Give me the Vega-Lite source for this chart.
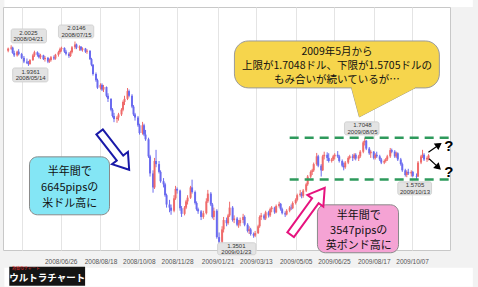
{
"$schema": "https://vega.github.io/schema/vega-lite/v6.json",
"width": 447, "height": 243,
"autosize": "none",
"padding": {"left": 3, "top": 7, "right": 28, "bottom": 37},
"background": "#f2f2f2",
"config": {"view": {"stroke": "#c8c8c8", "fill": "white"}, "font": "Liberation Sans"},
"datasets": {
"candles": [
{"d":"2008-04-17","o":1.985,"h":1.995,"l":1.980,"c":1.992},
{"d":"2008-04-21","o":1.992,"h":2.0025,"l":1.988,"c":1.995},
{"d":"2008-04-23","o":1.995,"h":1.998,"l":1.975,"c":1.978},
{"d":"2008-04-25","o":1.978,"h":1.985,"l":1.965,"c":1.970},
{"d":"2008-04-29","o":1.970,"h":1.985,"l":1.966,"c":1.982},
{"d":"2008-05-01","o":1.982,"h":1.990,"l":1.970,"c":1.974},
{"d":"2008-05-05","o":1.974,"h":1.978,"l":1.958,"c":1.962},
{"d":"2008-05-08","o":1.962,"h":1.968,"l":1.945,"c":1.950},
{"d":"2008-05-12","o":1.950,"h":1.960,"l":1.942,"c":1.946},
{"d":"2008-05-14","o":1.946,"h":1.952,"l":1.9361,"c":1.942},
{"d":"2008-05-16","o":1.942,"h":1.958,"l":1.940,"c":1.955},
{"d":"2008-05-20","o":1.955,"h":1.975,"l":1.952,"c":1.970},
{"d":"2008-05-22","o":1.970,"h":1.985,"l":1.965,"c":1.980},
{"d":"2008-05-26","o":1.980,"h":1.983,"l":1.966,"c":1.972},
{"d":"2008-05-28","o":1.972,"h":1.978,"l":1.960,"c":1.964},
{"d":"2008-05-30","o":1.964,"h":1.975,"l":1.958,"c":1.970},
{"d":"2008-06-03","o":1.970,"h":1.972,"l":1.955,"c":1.958},
{"d":"2008-06-05","o":1.958,"h":1.968,"l":1.950,"c":1.962},
{"d":"2008-06-09","o":1.962,"h":1.965,"l":1.945,"c":1.950},
{"d":"2008-06-11","o":1.950,"h":1.960,"l":1.946,"c":1.955},
{"d":"2008-06-13","o":1.955,"h":1.968,"l":1.950,"c":1.964},
{"d":"2008-06-17","o":1.964,"h":1.970,"l":1.955,"c":1.960},
{"d":"2008-06-19","o":1.960,"h":1.975,"l":1.956,"c":1.972},
{"d":"2008-06-23","o":1.972,"h":1.985,"l":1.966,"c":1.980},
{"d":"2008-06-25","o":1.980,"h":1.995,"l":1.975,"c":1.990},
{"d":"2008-06-27","o":1.990,"h":1.998,"l":1.982,"c":1.994},
{"d":"2008-07-01","o":1.994,"h":1.996,"l":1.978,"c":1.982},
{"d":"2008-07-03","o":1.982,"h":1.988,"l":1.970,"c":1.975},
{"d":"2008-07-07","o":1.975,"h":1.980,"l":1.962,"c":1.968},
{"d":"2008-07-09","o":1.968,"h":1.985,"l":1.965,"c":1.980},
{"d":"2008-07-11","o":1.980,"h":2.000,"l":1.976,"c":1.996},
{"d":"2008-07-15","o":1.996,"h":2.0146,"l":1.990,"c":2.005},
{"d":"2008-07-17","o":2.005,"h":2.008,"l":1.990,"c":1.995},
{"d":"2008-07-21","o":1.995,"h":2.002,"l":1.985,"c":1.998},
{"d":"2008-07-23","o":1.998,"h":2.000,"l":1.984,"c":1.988},
{"d":"2008-07-25","o":1.988,"h":1.996,"l":1.982,"c":1.992},
{"d":"2008-07-29","o":1.992,"h":1.994,"l":1.978,"c":1.982},
{"d":"2008-07-31","o":1.982,"h":1.990,"l":1.975,"c":1.985},
{"d":"2008-08-04","o":1.985,"h":1.986,"l":1.955,"c":1.958},
{"d":"2008-08-06","o":1.958,"h":1.962,"l":1.935,"c":1.940},
{"d":"2008-08-08","o":1.940,"h":1.942,"l":1.905,"c":1.910},
{"d":"2008-08-12","o":1.910,"h":1.915,"l":1.885,"c":1.890},
{"d":"2008-08-14","o":1.890,"h":1.895,"l":1.862,"c":1.866},
{"d":"2008-08-18","o":1.866,"h":1.880,"l":1.860,"c":1.875},
{"d":"2008-08-20","o":1.875,"h":1.880,"l":1.855,"c":1.860},
{"d":"2008-08-22","o":1.860,"h":1.875,"l":1.852,"c":1.868},
{"d":"2008-08-26","o":1.868,"h":1.870,"l":1.835,"c":1.840},
{"d":"2008-08-28","o":1.840,"h":1.848,"l":1.820,"c":1.830},
{"d":"2008-09-01","o":1.830,"h":1.832,"l":1.790,"c":1.795},
{"d":"2008-09-03","o":1.795,"h":1.800,"l":1.770,"c":1.775},
{"d":"2008-09-05","o":1.775,"h":1.785,"l":1.755,"c":1.765},
{"d":"2008-09-09","o":1.765,"h":1.775,"l":1.753,"c":1.770},
{"d":"2008-09-11","o":1.770,"h":1.785,"l":1.760,"c":1.780},
{"d":"2008-09-15","o":1.780,"h":1.800,"l":1.775,"c":1.795},
{"d":"2008-09-17","o":1.795,"h":1.825,"l":1.790,"c":1.820},
{"d":"2008-09-19","o":1.820,"h":1.840,"l":1.810,"c":1.830},
{"d":"2008-09-23","o":1.830,"h":1.865,"l":1.826,"c":1.855},
{"d":"2008-09-25","o":1.855,"h":1.860,"l":1.835,"c":1.840},
{"d":"2008-09-29","o":1.840,"h":1.845,"l":1.800,"c":1.805},
{"d":"2008-10-01","o":1.805,"h":1.810,"l":1.775,"c":1.780},
{"d":"2008-10-03","o":1.780,"h":1.785,"l":1.760,"c":1.770},
{"d":"2008-10-07","o":1.770,"h":1.775,"l":1.740,"c":1.745},
{"d":"2008-10-09","o":1.745,"h":1.750,"l":1.715,"c":1.720},
{"d":"2008-10-13","o":1.720,"h":1.756,"l":1.715,"c":1.745},
{"d":"2008-10-15","o":1.745,"h":1.750,"l":1.710,"c":1.715},
{"d":"2008-10-17","o":1.715,"h":1.730,"l":1.695,"c":1.700},
{"d":"2008-10-21","o":1.700,"h":1.705,"l":1.640,"c":1.645},
{"d":"2008-10-23","o":1.645,"h":1.650,"l":1.580,"c":1.590},
{"d":"2008-10-27","o":1.590,"h":1.600,"l":1.528,"c":1.545},
{"d":"2008-10-29","o":1.545,"h":1.640,"l":1.540,"c":1.630},
{"d":"2008-10-31","o":1.630,"h":1.666,"l":1.610,"c":1.620},
{"d":"2008-11-04","o":1.620,"h":1.630,"l":1.590,"c":1.595},
{"d":"2008-11-06","o":1.595,"h":1.600,"l":1.560,"c":1.565},
{"d":"2008-11-10","o":1.565,"h":1.575,"l":1.545,"c":1.555},
{"d":"2008-11-12","o":1.555,"h":1.560,"l":1.515,"c":1.520},
{"d":"2008-11-14","o":1.520,"h":1.525,"l":1.480,"c":1.490},
{"d":"2008-11-18","o":1.490,"h":1.505,"l":1.465,"c":1.480},
{"d":"2008-11-20","o":1.480,"h":1.490,"l":1.457,"c":1.470},
{"d":"2008-11-24","o":1.470,"h":1.520,"l":1.465,"c":1.510},
{"d":"2008-11-26","o":1.510,"h":1.550,"l":1.505,"c":1.540},
{"d":"2008-11-28","o":1.540,"h":1.545,"l":1.525,"c":1.535},
{"d":"2008-12-02","o":1.535,"h":1.538,"l":1.470,"c":1.478},
{"d":"2008-12-04","o":1.478,"h":1.485,"l":1.450,"c":1.460},
{"d":"2008-12-08","o":1.460,"h":1.485,"l":1.455,"c":1.480},
{"d":"2008-12-10","o":1.480,"h":1.505,"l":1.475,"c":1.500},
{"d":"2008-12-12","o":1.500,"h":1.520,"l":1.490,"c":1.512},
{"d":"2008-12-16","o":1.512,"h":1.550,"l":1.508,"c":1.545},
{"d":"2008-12-18","o":1.545,"h":1.570,"l":1.525,"c":1.530},
{"d":"2008-12-22","o":1.530,"h":1.535,"l":1.490,"c":1.495},
{"d":"2008-12-24","o":1.495,"h":1.500,"l":1.470,"c":1.475},
{"d":"2008-12-26","o":1.475,"h":1.480,"l":1.460,"c":1.468},
{"d":"2008-12-30","o":1.468,"h":1.472,"l":1.440,"c":1.450},
{"d":"2009-01-02","o":1.450,"h":1.470,"l":1.444,"c":1.462},
{"d":"2009-01-06","o":1.462,"h":1.510,"l":1.458,"c":1.500},
{"d":"2009-01-08","o":1.500,"h":1.537,"l":1.495,"c":1.525},
{"d":"2009-01-12","o":1.525,"h":1.530,"l":1.485,"c":1.490},
{"d":"2009-01-14","o":1.490,"h":1.495,"l":1.445,"c":1.450},
{"d":"2009-01-16","o":1.450,"h":1.480,"l":1.440,"c":1.470},
{"d":"2009-01-20","o":1.470,"h":1.475,"l":1.380,"c":1.385},
{"d":"2009-01-23","o":1.385,"h":1.400,"l":1.3501,"c":1.370},
{"d":"2009-01-27","o":1.370,"h":1.420,"l":1.365,"c":1.410},
{"d":"2009-01-29","o":1.410,"h":1.450,"l":1.400,"c":1.440},
{"d":"2009-02-02","o":1.440,"h":1.448,"l":1.420,"c":1.430},
{"d":"2009-02-04","o":1.430,"h":1.460,"l":1.425,"c":1.455},
{"d":"2009-02-06","o":1.455,"h":1.499,"l":1.450,"c":1.480},
{"d":"2009-02-10","o":1.480,"h":1.485,"l":1.435,"c":1.440},
{"d":"2009-02-12","o":1.440,"h":1.455,"l":1.430,"c":1.445},
{"d":"2009-02-16","o":1.445,"h":1.450,"l":1.420,"c":1.425},
{"d":"2009-02-18","o":1.425,"h":1.440,"l":1.415,"c":1.430},
{"d":"2009-02-20","o":1.430,"h":1.448,"l":1.420,"c":1.440},
{"d":"2009-02-24","o":1.440,"h":1.460,"l":1.430,"c":1.450},
{"d":"2009-02-26","o":1.450,"h":1.455,"l":1.420,"c":1.425},
{"d":"2009-03-02","o":1.425,"h":1.430,"l":1.400,"c":1.405},
{"d":"2009-03-04","o":1.405,"h":1.420,"l":1.395,"c":1.410},
{"d":"2009-03-06","o":1.410,"h":1.415,"l":1.390,"c":1.395},
{"d":"2009-03-10","o":1.395,"h":1.400,"l":1.383,"c":1.390},
{"d":"2009-03-12","o":1.390,"h":1.405,"l":1.385,"c":1.398},
{"d":"2009-03-16","o":1.398,"h":1.425,"l":1.395,"c":1.420},
{"d":"2009-03-18","o":1.420,"h":1.455,"l":1.415,"c":1.450},
{"d":"2009-03-20","o":1.450,"h":1.463,"l":1.440,"c":1.455},
{"d":"2009-03-24","o":1.455,"h":1.460,"l":1.440,"c":1.445},
{"d":"2009-03-26","o":1.445,"h":1.470,"l":1.440,"c":1.465},
{"d":"2009-03-30","o":1.465,"h":1.470,"l":1.448,"c":1.455},
{"d":"2009-04-01","o":1.455,"h":1.480,"l":1.450,"c":1.475},
{"d":"2009-04-03","o":1.475,"h":1.485,"l":1.465,"c":1.480},
{"d":"2009-04-07","o":1.480,"h":1.483,"l":1.460,"c":1.465},
{"d":"2009-04-09","o":1.465,"h":1.490,"l":1.462,"c":1.485},
{"d":"2009-04-13","o":1.485,"h":1.499,"l":1.480,"c":1.492},
{"d":"2009-04-15","o":1.492,"h":1.495,"l":1.470,"c":1.475},
{"d":"2009-04-17","o":1.475,"h":1.480,"l":1.458,"c":1.462},
{"d":"2009-04-21","o":1.462,"h":1.468,"l":1.450,"c":1.458},
{"d":"2009-04-23","o":1.458,"h":1.475,"l":1.455,"c":1.470},
{"d":"2009-04-27","o":1.470,"h":1.485,"l":1.465,"c":1.480},
{"d":"2009-04-29","o":1.480,"h":1.490,"l":1.472,"c":1.478},
{"d":"2009-05-01","o":1.478,"h":1.500,"l":1.475,"c":1.495},
{"d":"2009-05-05","o":1.495,"h":1.510,"l":1.490,"c":1.505},
{"d":"2009-05-07","o":1.505,"h":1.525,"l":1.500,"c":1.520},
{"d":"2009-05-11","o":1.520,"h":1.537,"l":1.515,"c":1.525},
{"d":"2009-05-13","o":1.525,"h":1.530,"l":1.510,"c":1.518},
{"d":"2009-05-15","o":1.518,"h":1.540,"l":1.512,"c":1.535},
{"d":"2009-05-19","o":1.535,"h":1.560,"l":1.530,"c":1.555},
{"d":"2009-05-21","o":1.555,"h":1.585,"l":1.550,"c":1.580},
{"d":"2009-05-25","o":1.580,"h":1.600,"l":1.575,"c":1.595},
{"d":"2009-05-27","o":1.595,"h":1.605,"l":1.585,"c":1.600},
{"d":"2009-05-29","o":1.600,"h":1.625,"l":1.595,"c":1.620},
{"d":"2009-06-02","o":1.620,"h":1.656,"l":1.615,"c":1.645},
{"d":"2009-06-04","o":1.645,"h":1.650,"l":1.610,"c":1.615},
{"d":"2009-06-08","o":1.615,"h":1.620,"l":1.580,"c":1.600},
{"d":"2009-06-10","o":1.600,"h":1.650,"l":1.598,"c":1.645},
{"d":"2009-06-12","o":1.645,"h":1.660,"l":1.635,"c":1.650},
{"d":"2009-06-16","o":1.650,"h":1.658,"l":1.630,"c":1.640},
{"d":"2009-06-18","o":1.640,"h":1.655,"l":1.625,"c":1.630},
{"d":"2009-06-22","o":1.630,"h":1.640,"l":1.625,"c":1.635},
{"d":"2009-06-24","o":1.635,"h":1.650,"l":1.630,"c":1.645},
{"d":"2009-06-26","o":1.645,"h":1.655,"l":1.635,"c":1.650},
{"d":"2009-06-30","o":1.650,"h":1.662,"l":1.640,"c":1.645},
{"d":"2009-07-02","o":1.645,"h":1.650,"l":1.625,"c":1.630},
{"d":"2009-07-06","o":1.630,"h":1.635,"l":1.610,"c":1.615},
{"d":"2009-07-08","o":1.615,"h":1.625,"l":1.600,"c":1.610},
{"d":"2009-07-10","o":1.610,"h":1.630,"l":1.605,"c":1.625},
{"d":"2009-07-14","o":1.625,"h":1.645,"l":1.620,"c":1.640},
{"d":"2009-07-16","o":1.640,"h":1.650,"l":1.635,"c":1.645},
{"d":"2009-07-20","o":1.645,"h":1.652,"l":1.630,"c":1.640},
{"d":"2009-07-22","o":1.640,"h":1.655,"l":1.635,"c":1.650},
{"d":"2009-07-24","o":1.650,"h":1.655,"l":1.632,"c":1.638},
{"d":"2009-07-28","o":1.638,"h":1.650,"l":1.630,"c":1.645},
{"d":"2009-07-30","o":1.645,"h":1.665,"l":1.640,"c":1.660},
{"d":"2009-08-03","o":1.660,"h":1.695,"l":1.655,"c":1.690},
{"d":"2009-08-05","o":1.690,"h":1.7048,"l":1.680,"c":1.695},
{"d":"2009-08-07","o":1.695,"h":1.698,"l":1.665,"c":1.670},
{"d":"2009-08-11","o":1.670,"h":1.675,"l":1.650,"c":1.655},
{"d":"2009-08-13","o":1.655,"h":1.665,"l":1.640,"c":1.660},
{"d":"2009-08-17","o":1.660,"h":1.662,"l":1.635,"c":1.640},
{"d":"2009-08-19","o":1.640,"h":1.655,"l":1.635,"c":1.650},
{"d":"2009-08-21","o":1.650,"h":1.660,"l":1.640,"c":1.645},
{"d":"2009-08-25","o":1.645,"h":1.650,"l":1.630,"c":1.635},
{"d":"2009-08-27","o":1.635,"h":1.640,"l":1.620,"c":1.625},
{"d":"2009-08-31","o":1.625,"h":1.635,"l":1.620,"c":1.630},
{"d":"2009-09-02","o":1.630,"h":1.640,"l":1.625,"c":1.635},
{"d":"2009-09-04","o":1.635,"h":1.650,"l":1.630,"c":1.645},
{"d":"2009-09-08","o":1.645,"h":1.672,"l":1.640,"c":1.665},
{"d":"2009-09-10","o":1.665,"h":1.670,"l":1.655,"c":1.660},
{"d":"2009-09-14","o":1.660,"h":1.665,"l":1.640,"c":1.645},
{"d":"2009-09-16","o":1.645,"h":1.660,"l":1.640,"c":1.655},
{"d":"2009-09-18","o":1.655,"h":1.658,"l":1.630,"c":1.635},
{"d":"2009-09-22","o":1.635,"h":1.640,"l":1.615,"c":1.620},
{"d":"2009-09-24","o":1.620,"h":1.625,"l":1.595,"c":1.600},
{"d":"2009-09-28","o":1.600,"h":1.605,"l":1.580,"c":1.585},
{"d":"2009-09-30","o":1.585,"h":1.600,"l":1.578,"c":1.595},
{"d":"2009-10-02","o":1.595,"h":1.605,"l":1.585,"c":1.590},
{"d":"2009-10-06","o":1.590,"h":1.600,"l":1.580,"c":1.595},
{"d":"2009-10-08","o":1.595,"h":1.598,"l":1.578,"c":1.582},
{"d":"2009-10-13","o":1.582,"h":1.590,"l":1.5705,"c":1.580},
{"d":"2009-10-15","o":1.580,"h":1.630,"l":1.578,"c":1.625},
{"d":"2009-10-19","o":1.625,"h":1.650,"l":1.620,"c":1.645},
{"d":"2009-10-21","o":1.645,"h":1.666,"l":1.640,"c":1.650},
{"d":"2009-10-23","o":1.650,"h":1.655,"l":1.630,"c":1.635},
{"d":"2009-10-27","o":1.635,"h":1.645,"l":1.627,"c":1.640},
{"d":"2009-10-29","o":1.640,"h":1.652,"l":1.632,"c":1.648}
]
},
"encoding": {
  "x": {"field": "d", "type": "temporal",
    "scale": {"type": "utc", "nice": false, "domain": [{"year": 2008, "month": 4, "date": 16, "hours": 19, "utc": true}, {"year": 2009, "month": 11, "date": 19, "hours": 22, "utc": true}]},
    "axis": {"title": null, "values": [
      {"year": 2008, "month": 5, "date": 5, "utc": true},
      {"year": 2008, "month": 6, "date": 26, "utc": true},
      {"year": 2008, "month": 8, "date": 18, "utc": true},
      {"year": 2008, "month": 10, "date": 8, "utc": true},
      {"year": 2008, "month": 11, "date": 28, "utc": true},
      {"year": 2009, "month": 1, "date": 21, "utc": true},
      {"year": 2009, "month": 3, "date": 13, "utc": true},
      {"year": 2009, "month": 5, "date": 5, "utc": true},
      {"year": 2009, "month": 6, "date": 25, "utc": true},
      {"year": 2009, "month": 8, "date": 17, "utc": true},
      {"year": 2009, "month": 10, "date": 7, "utc": true}],
      "format": "%Y/%m/%d",
      "labelExpr": "utcFormat(datum.value, '%Y/%m/%d') == '2008/05/05' ? '' : datum.label",
      "ticks": false, "domain": false, "grid": true, "gridColor": "#e4e4e4",
      "labelFontSize": 6.5, "labelColor": "#555555", "labelPadding": 8,
      "labelFlush": false, "labelOverlap": false}
  }
},
"layer": [
{
  "data": {"values": [
    {"d": "2008-04-12", "d2": "2009-12-27", "p": 2.1482, "p2": 2.1257},
    {"d": "2008-04-12", "d2": "2009-12-27", "p": 1.2865, "p2": 1.2254}]},
  "mark": {"type": "rect", "fill": "white", "clip": false},
  "encoding": {"x2": {"field": "d2"}, "y": {"field": "p", "type": "quantitative", "axis": null}, "y2": {"field": "p2"}}
},
{
  "data": {"name": "candles"},
  "mark": {"type": "rule", "strokeWidth": 1},
  "encoding": {
    "y": {"field": "l", "type": "quantitative",
      "scale": {"domain": [1.3436, 2.1257], "zero": false, "nice": false},
      "axis": {"orient": "right", "title": null, "values": [1.35, 1.5, 1.65, 1.8, 1.95, 2.1], "format": ".4f",
        "ticks": false, "domain": false, "grid": true, "gridColor": "#e4e4e4",
        "labelFontSize": 6.5, "labelColor": "#555555", "labelPadding": 5}},
    "y2": {"field": "h"},
    "color": {"condition": {"test": "datum.c >= datum.o", "value": "#ef6b6b"}, "value": "#6b6bef"}
  }
},
{
  "data": {"name": "candles"},
  "mark": {"type": "bar", "size": 2},
  "encoding": {
    "y": {"field": "o", "type": "quantitative", "scale": {"domain": [1.3436, 2.1257], "zero": false, "nice": false}, "axis": null},
    "y2": {"field": "c"},
    "color": {"condition": {"test": "datum.c >= datum.o", "value": "#ef6b6b"}, "value": "#6b6bef"}
  }
},
{
  "data": {"values": [
    {"d": "2009-04-27", "d2": "2009-11-28", "p": 1.7048},
    {"d": "2009-04-27", "d2": "2009-11-28", "p": 1.5705}]},
  "mark": {"type": "rule", "stroke": "#2e9a5c", "strokeWidth": 2.5, "strokeDash": [9, 6], "clip": false},
  "encoding": {"x2": {"field": "d2"}, "y": {"field": "p", "type": "quantitative", "axis": null}}
},
{
  "data": {"values": [
    {"d": "2008-04-21", "d2": "2008-06-07", "p": 2.055, "p2": 2.010},
    {"d": "2008-04-23", "d2": "2008-06-09", "p": 1.9296, "p2": 1.8846},
    {"d": "2008-06-23", "d2": "2008-08-09", "p": 2.0678, "p2": 2.026},
    {"d": "2009-01-21", "d2": "2009-03-13", "p": 1.3669, "p2": 1.3283},
    {"d": "2009-07-09", "d2": "2009-08-24", "p": 1.756, "p2": 1.7141},
    {"d": "2009-09-18", "d2": "2009-11-02", "p": 1.563, "p2": 1.5212}]},
  "mark": {"type": "rect", "fill": "#e3e3e3", "stroke": "#cccccc", "strokeWidth": 0.8, "cornerRadius": 2, "clip": false},
  "encoding": {"x2": {"field": "d2"}, "y": {"field": "p", "type": "quantitative", "axis": null}, "y2": {"field": "p2"}}
},
{
  "data": {"values": [
    {"d": "2008-05-14", "p": 2.0325, "t": "2.0025\n2008/04/21"},
    {"d": "2008-05-17", "p": 1.9071, "t": "1.9361\n2008/05/14"},
    {"d": "2008-07-17", "p": 2.047, "t": "2.0146\n2008/07/15"},
    {"d": "2009-02-15", "p": 1.3476, "t": "1.3501\n2009/01/23"},
    {"d": "2009-08-02", "p": 1.735, "t": "1.7048\n2009/08/05"},
    {"d": "2009-10-11", "p": 1.542, "t": "1.5705\n2009/10/13"}]},
  "mark": {"type": "text", "lineBreak": "\n", "fontSize": 6, "lineHeight": 6.5, "dy": -3.25, "color": "#333333", "align": "center", "baseline": "middle", "clip": false},
  "encoding": {"y": {"field": "p", "type": "quantitative", "axis": null}, "text": {"field": "t"}}
},
{
  "data": {"values": [{"d": "2009-02-12T10:00Z", "d2": "2009-11-12T10:00Z", "p": 2.0164, "p2": 1.8653}]},
  "mark": {"type": "rect", "fill": "#f6d54c", "stroke": "#9a9a9a", "strokeWidth": 1, "cornerRadius": 14, "clip": false},
  "encoding": {"x2": {"field": "d2"}, "y": {"field": "p", "type": "quantitative", "axis": null}, "y2": {"field": "p2"}}
},
{
  "data": {"values": [
    {"d": "2009-07-18T10:00Z", "p": 1.8653, "p2": 1.8653},
    {"d": "2009-07-28T19:00Z", "p": 1.8653, "p2": 1.772},
    {"d": "2009-10-10T22:00Z", "p": 1.8653, "p2": 1.8653}]},
  "mark": {"type": "area", "fill": "#f6d54c", "stroke": "#9a9a9a", "strokeWidth": 1, "clip": false},
  "encoding": {"y": {"field": "p", "type": "quantitative", "axis": null}, "y2": {"field": "p2"}}
},
{
  "data": {"values": [
    {"d": "2009-07-18T10:00Z", "p": 1.871, "p2": 1.8653},
    {"d": "2009-07-28T19:00Z", "p": 1.871, "p2": 1.772},
    {"d": "2009-10-10T22:00Z", "p": 1.871, "p2": 1.8653}]},
  "mark": {"type": "area", "fill": "#f6d54c", "clip": false},
  "encoding": {"y": {"field": "p", "type": "quantitative", "axis": null}, "y2": {"field": "p2"}}
},
{
  "data": {"values": [{"d": "2009-06-29", "p": 1.936, "t": "2009年5月から\n上限が1.7048ドル、下限が1.5705ドルの\nもみ合いが続いているが…"}]},
  "mark": {"type": "text", "lineBreak": "\n", "font": "Noto Sans CJK JP", "fontSize": 10.5, "lineHeight": 14, "dy": -14, "color": "#111111", "align": "center", "baseline": "middle", "clip": false},
  "encoding": {"y": {"field": "p", "type": "quantitative", "axis": null}, "text": {"field": "t"}}
},
{
  "data": {"values": [{"d": "2008-05-15T10:00Z", "d2": "2008-08-30", "p": 1.6434, "p2": 1.4569}]},
  "mark": {"type": "rect", "fill": "#84e6f5", "stroke": "#8a8a8a", "strokeWidth": 1, "cornerRadius": 8, "clip": false},
  "encoding": {"x2": {"field": "d2"}, "y": {"field": "p", "type": "quantitative", "axis": null}, "y2": {"field": "p2"}}
},
{
  "data": {"values": [{"d": "2008-07-08", "p": 1.5437, "t": "半年間で\n6645pipsの\n米ドル高に"}]},
  "mark": {"type": "text", "lineBreak": "\n", "font": "Noto Sans CJK JP", "fontSize": 11, "lineHeight": 16, "dy": -16, "color": "#111111", "align": "center", "baseline": "middle", "clip": false},
  "encoding": {"y": {"field": "p", "type": "quantitative", "axis": null}, "text": {"field": "t"}}
},
{
  "data": {"values": [{"d": "2009-06-03", "d2": "2009-09-19", "p": 1.489, "p2": 1.3347}]},
  "mark": {"type": "rect", "fill": "#f5a3d4", "stroke": "#8a8a8a", "strokeWidth": 1, "cornerRadius": 8, "clip": false},
  "encoding": {"x2": {"field": "d2"}, "y": {"field": "p", "type": "quantitative", "axis": null}, "y2": {"field": "p2"}}
},
{
  "data": {"values": [{"d": "2009-07-28", "p": 1.4055, "t": "半年間で\n3547pipsの\n英ポンド高に"}]},
  "mark": {"type": "text", "lineBreak": "\n", "font": "Noto Sans CJK JP", "fontSize": 11, "lineHeight": 15, "dy": -15, "color": "#111111", "align": "center", "baseline": "middle", "clip": false},
  "encoding": {"y": {"field": "p", "type": "quantitative", "axis": null}, "text": {"field": "t"}}
},
{
  "data": {"values": [{"d": "2008-09-05T12:00Z", "p": 1.6627}]},
  "mark": {"type": "point", "shape": "M-1,-0.17L0.38,-0.17L0.38,-0.42L1,0L0.38,0.42L0.38,0.17L-1,0.17Z", "size": 2304, "angle": 52, "filled": true, "fill": "white", "stroke": "#1a1aa8", "strokeWidth": 2, "opacity": 1, "clip": false},
  "encoding": {"y": {"field": "p", "type": "quantitative", "axis": null}}
},
{
  "data": {"values": [{"d": "2009-05-21", "p": 1.4682}]},
  "mark": {"type": "point", "shape": "M-1,-0.14L0.45,-0.14L0.45,-0.34L1,0L0.45,0.34L0.45,0.14L-1,0.14Z", "size": 3364, "angle": 306, "filled": true, "fill": "white", "stroke": "#e6137e", "strokeWidth": 2, "opacity": 1, "clip": false},
  "encoding": {"y": {"field": "p", "type": "quantitative", "axis": null}}
},
{
  "data": {"values": [{"d": "2009-11-06", "p": 1.6723, "a": 325}, {"d": "2009-11-06", "p": 1.6209, "a": 43}]},
  "mark": {"type": "point", "shape": "M-1,0L0.4,0M0.33,-0.4L1,0L0.33,0.4Z", "size": 225, "filled": true, "fill": "black", "stroke": "black", "strokeWidth": 1.2, "opacity": 1, "clip": false},
  "encoding": {"y": {"field": "p", "type": "quantitative", "axis": null}, "angle": {"field": "a", "type": "quantitative", "scale": null}}
},
{
  "data": {"values": [{"d": "2009-11-25", "p": 1.6788, "t": "?"}, {"d": "2009-11-25", "p": 1.5952, "t": "?"}]},
  "mark": {"type": "text", "fontSize": 15, "fontWeight": "bold", "color": "black", "align": "center", "baseline": "middle", "clip": false},
  "encoding": {"y": {"field": "p", "type": "quantitative", "axis": null}, "text": {"field": "t"}}
},
{
  "data": {"values": [{"d": "2008-04-18T12:00Z", "d2": "2008-07-28T12:00Z", "p": 1.2897, "p2": 1.2286}]},
  "mark": {"type": "rect", "fill": "#141414", "clip": false},
  "encoding": {"x2": {"field": "d2"}, "y": {"field": "p", "type": "quantitative", "axis": null}, "y2": {"field": "p2"}}
},
{
  "data": {"values": [{"d": "2008-06-08", "p": 1.2525, "t": "ウルトラチャート"}]},
  "mark": {"type": "text", "font": "Noto Sans CJK JP", "fontSize": 9.5, "fontWeight": "bold", "color": "white", "align": "center", "baseline": "middle", "clip": false},
  "encoding": {"y": {"field": "p", "type": "quantitative", "axis": null}, "text": {"field": "t"}}
},
{
  "data": {"values": [{"d": "2008-04-22", "p": 1.2835, "t": "為替のチャート"}]},
  "mark": {"type": "text", "font": "Noto Sans CJK JP", "fontSize": 4, "color": "#e83030", "align": "left", "baseline": "middle", "clip": false},
  "encoding": {"y": {"field": "p", "type": "quantitative", "axis": null}, "text": {"field": "t"}}
}
]
}
